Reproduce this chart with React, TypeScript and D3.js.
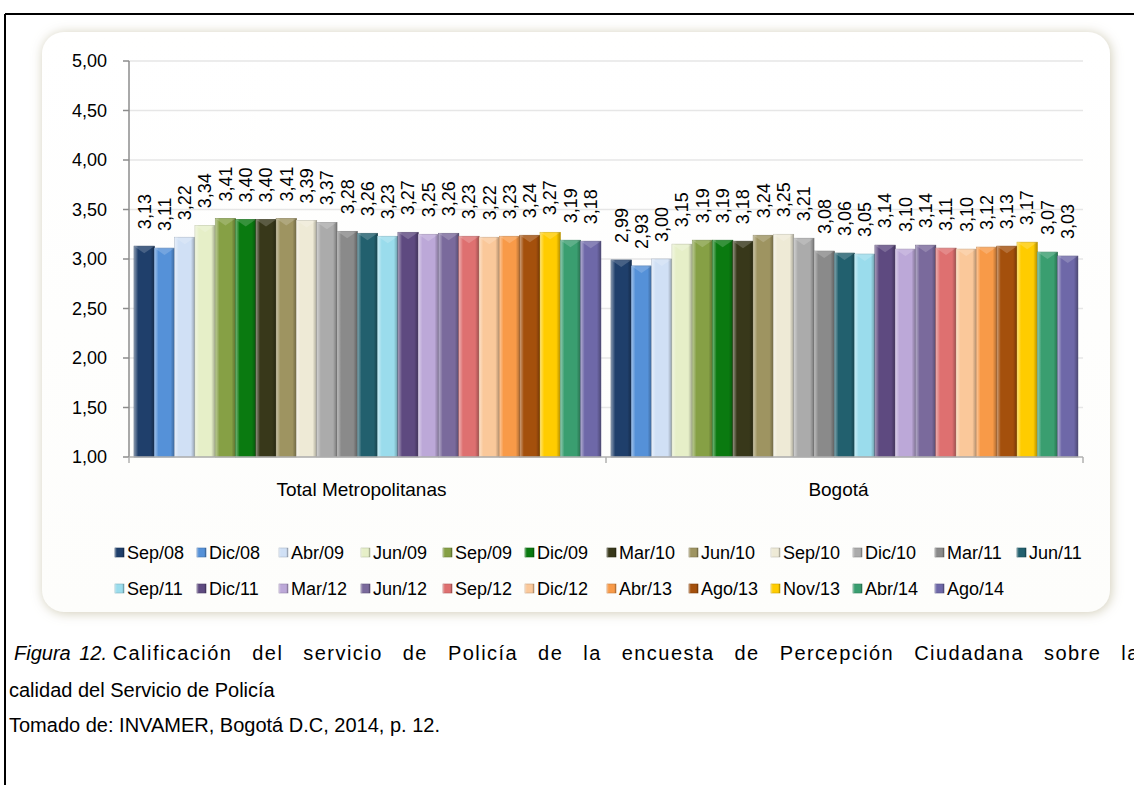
import React from "react";
import * as d3 from "d3";

const categories = ["Total Metropolitanas", "Bogotá"];
const periods = ["Sep/08","Dic/08","Abr/09","Jun/09","Sep/09","Dic/09","Mar/10","Jun/10","Sep/10","Dic/10","Mar/11","Jun/11","Sep/11","Dic/11","Mar/12","Jun/12","Sep/12","Dic/12","Abr/13","Ago/13","Nov/13","Abr/14","Ago/14"];
const totalMetro = [3.13,3.11,3.22,3.34,3.41,3.40,3.40,3.41,3.39,3.37,3.28,3.26,3.23,3.27,3.25,3.26,3.23,3.22,3.23,3.24,3.27,3.19,3.18];
const bogota = [2.99,2.93,3.00,3.15,3.19,3.19,3.18,3.24,3.25,3.21,3.08,3.06,3.05,3.14,3.10,3.14,3.11,3.10,3.12,3.13,3.17,3.07,3.03];
const seriesColors = ["#1f3f6b","#5591d8","#d0e0f5","#e6efc8","#86a045","#0a7a10","#38381a","#9e9461","#eeead6","#ababab","#8a8a8a","#22606e","#9adcec","#5e4a80","#bca8d8","#7a6a9c","#de7070","#fac89a","#f89a48","#a4500c","#ffcc00","#3a9e70","#6e68a8"];
const yTicks = [1.0,1.5,2.0,2.5,3.0,3.5,4.0,4.5,5.0];
const captionLines = [
  "Calificación del servicio de Policía de la encuesta de Percepción Ciudadana sobre la",
  "calidad del Servicio de Policía",
  "Tomado de: INVAMER, Bogotá D.C, 2014, p. 12.",
];

const W = 1134, H = 785;
const FONT = "'Liberation Sans', Arial, Helvetica, sans-serif";

export default function App() {
  const plot = { left: 129, right: 1083, top: 61, bottom: 457 };
  const y = d3.scaleLinear().domain([1, 5]).range([plot.bottom, plot.top]);
  const x0 = d3.scaleBand().domain(categories).range([plot.left, plot.right]).paddingInner(0).paddingOuter(0);
  const x1 = d3.scaleBand().domain(periods).range([0, x0.bandwidth()]).paddingInner(0).paddingOuter(0.25);
  const data = [totalMetro, bogota];
  const fmt = (v: number) => d3.format(".2f")(v).replace(".", ",");

  const legendX = d3.scalePoint().domain(d3.range(12).map(String)).range([115, 1017]);
  const legendRows = [553, 589];

  return (
    <div style={{ position: "absolute", left: 0, top: 0, width: W, height: H, background: "#fff" }}>
      <svg width={W} height={H} style={{ display: "block", fontFamily: FONT }}>
        <defs>
          <filter id="pshadow" x="-5%" y="-5%" width="110%" height="110%">
            <feDropShadow dx="1" dy="1" stdDeviation="6" floodColor="#cdc8b2" floodOpacity="0.95" />
          </filter>
          <linearGradient id="panelFill" x1="0" y1="0" x2="0" y2="1">
            <stop offset="0" stopColor="#ffffff" />
            <stop offset="1" stopColor="#fdfdfb" />
          </linearGradient>
          <linearGradient id="bevelH" x1="0" y1="0" x2="1" y2="0">
            <stop offset="0" stopColor="#ffffff" stopOpacity="0.45" />
            <stop offset="0.14" stopColor="#ffffff" stopOpacity="0.15" />
            <stop offset="0.2" stopColor="#ffffff" stopOpacity="0" />
            <stop offset="0.8" stopColor="#000000" stopOpacity="0" />
            <stop offset="0.88" stopColor="#000000" stopOpacity="0.12" />
            <stop offset="1" stopColor="#000000" stopOpacity="0.3" />
          </linearGradient>
        </defs>

        {/* outer frame */}
        <line x1={5} y1={14} x2={W} y2={14} stroke="#000" strokeWidth={2} />
        <line x1={5} y1={14} x2={5} y2={H} stroke="#000" strokeWidth={2} />

        {/* panel */}
        <rect x={42} y={32} width={1068} height={580} rx={22} ry={22} fill="url(#panelFill)" filter="url(#pshadow)" />

        {/* gridlines */}
        {yTicks.filter(t => t > 1).map(t => (
          <line key={"g" + t} x1={plot.left} x2={plot.right} y1={y(t)} y2={y(t)} stroke="#e6e6e6" strokeWidth={1.5} />
        ))}

        {/* bars */}
        {categories.map((c, ci) => (
          <g key={c} transform={`translate(${x0(c)},0)`}>
            {data[ci].map((v, i) => {
              const bx = x1(periods[i])!;
              const bw = x1.bandwidth();
              const by = y(v);
              const bh = y(1) - by;
              const col = d3.color(seriesColors[i])!;
              return (
                <g key={i}>
                  <rect x={bx} y={by} width={bw} height={bh} fill={seriesColors[i]} stroke={col.darker(0.6).formatHex()} strokeWidth={0.6} />
                  <rect x={bx} y={by} width={bw} height={bh} fill="url(#bevelH)" />
                  <polygon points={`${bx},${by} ${bx + bw},${by} ${bx + bw / 2},${by + 7}`} fill="#ffffff" fillOpacity={0.18} />
                  <text transform={`translate(${bx + bw / 2},${by - 17}) rotate(-90)`} fontSize={18} dy="0.35em" textAnchor="start" fill="#000">{fmt(v)}</text>
                </g>
              );
            })}
          </g>
        ))}

        {/* axes */}
        <line x1={plot.left} x2={plot.left} y1={plot.top} y2={plot.bottom} stroke="#8c8c8c" strokeWidth={1.5} />
        <line x1={plot.left} x2={plot.right} y1={plot.bottom} y2={plot.bottom} stroke="#b0b0b0" strokeWidth={1.5} />
        {yTicks.map(t => (
          <g key={"t" + t}>
            <line x1={plot.left - 6} x2={plot.left} y1={y(t)} y2={y(t)} stroke="#8c8c8c" strokeWidth={1.5} />
            <text x={107} y={y(t)} dy="0.35em" textAnchor="end" fontSize={18} fill="#000">{fmt(t)}</text>
          </g>
        ))}
        {[plot.left, ...categories.map(c => x0(c)! + x0.bandwidth())].map((xx, i) => (
          <line key={"ct" + i} x1={xx} x2={xx} y1={plot.bottom} y2={plot.bottom + 6} stroke="#b0b0b0" strokeWidth={1.5} />
        ))}
        {categories.map(c => (
          <text key={"cl" + c} x={x0(c)! + x0.bandwidth() / 2 - 6} y={496} textAnchor="middle" fontSize={19} fill="#000">{c}</text>
        ))}

        {/* legend */}
        {periods.map((p, i) => {
          const row = i < 12 ? 0 : 1;
          const colIdx = row === 0 ? i : i - 12;
          const lx = legendX(String(colIdx))!;
          const ly = legendRows[row];
          const col = d3.color(seriesColors[i])!;
          return (
            <g key={"lg" + p}>
              <rect x={lx} y={ly - 5} width={9} height={9} fill={seriesColors[i]} stroke={col.darker(0.6).formatHex()} strokeWidth={0.6} />
              <rect x={lx} y={ly - 5} width={9} height={9} fill="url(#bevelH)" />
              <text x={lx + 12} y={ly} dy="0.35em" fontSize={18} fill="#000">{p}</text>
            </g>
          );
        })}

        {/* caption */}
        <text x={14} y={660} fontSize={20} fill="#000">
          <tspan fontStyle="italic" style={{ wordSpacing: "3px" }}>Figura 12.</tspan>
          <tspan> </tspan>
          <tspan style={{ wordSpacing: "13px", letterSpacing: "1.45px" }}>{captionLines[0]}</tspan>
        </text>
        <text x={9} y={697} fontSize={20} fill="#000">{captionLines[1]}</text>
        <text x={9} y={732} fontSize={20} fill="#000">{captionLines[2]}</text>
      </svg>
    </div>
  );
}
